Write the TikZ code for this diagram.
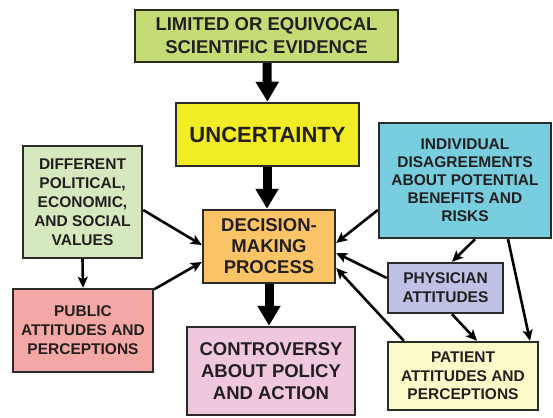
\documentclass[tikz,border=0pt]{standalone}
\usepackage{fontspec}
\setmainfont{Liberation Sans}
\usetikzlibrary{arrows.meta,calc}
\definecolor{bordc}{RGB}{45,42,42}
\definecolor{textc}{RGB}{35,31,32}
\definecolor{cTop}{RGB}{197,220,118}
\definecolor{cUnc}{RGB}{242,236,38}
\definecolor{cVal}{RGB}{214,232,189}
\definecolor{cInd}{RGB}{120,205,222}
\definecolor{cDec}{RGB}{251,197,103}
\definecolor{cPub}{RGB}{244,168,166}
\definecolor{cCon}{RGB}{239,200,222}
\definecolor{cPhy}{RGB}{190,193,229}
\definecolor{cPat}{RGB}{251,249,200}
\begin{document}
\begin{tikzpicture}[x=1pt,y=-1pt,
  box/.style={draw=bordc, line width=2.4pt, fill=#1, align=center, text=textc, inner sep=0pt},
  smallfont/.style={font=\fontsize{15.5pt}{19pt}\selectfont\bfseries},
  bigfont/.style={font=\fontsize{18.5pt}{22pt}\selectfont\bfseries},
  thick arrow/.style={draw=black, line width=9pt, -{Triangle[width=22pt,length=20pt]}},
  thin arrow/.style={draw=black, line width=2.6pt, -{Stealth[length=11pt,width=10pt,inset=2.5pt]}},
]
\useasboundingbox (0,0) rectangle (553,417);

\node[box=cTop, minimum width=263pt, minimum height=52pt, font=\fontsize{18.5pt}{23pt}\selectfont\bfseries] (top) at (266.5,36)
  {LIMITED OR EQUIVOCAL\\SCIENTIFIC EVIDENCE};
\node[box=cUnc, minimum width=183pt, minimum height=63pt, font=\fontsize{22pt}{26pt}\selectfont\bfseries] (unc) at (267.5,134.5)
  {UNCERTAINTY};
\node[box=cVal, minimum width=119pt, minimum height=112pt, smallfont] (val) at (82.5,202)
  {DIFFERENT\\POLITICAL,\\ECONOMIC,\\AND SOCIAL\\VALUES};
\node[box=cInd, minimum width=172pt, minimum height=115pt, smallfont, font=\fontsize{15.5pt}{18pt}\selectfont\bfseries] (ind) at (465,180.5)
  {INDIVIDUAL\\DISAGREEMENTS\\ABOUT POTENTIAL\\BENEFITS AND\\RISKS};
\node[box=cDec, minimum width=132pt, minimum height=73pt, bigfont, font=\fontsize{18.5pt}{21pt}\selectfont\bfseries] (dec) at (269,246.5)
  {DECISION-\\MAKING\\PROCESS};
\node[box=cPub, minimum width=140pt, minimum height=83pt, smallfont] (pub) at (83,330.5)
  {PUBLIC\\ATTITUDES AND\\PERCEPTIONS};
\node[box=cCon, minimum width=168pt, minimum height=88pt, bigfont] (con) at (271,371)
  {CONTROVERSY\\ABOUT POLICY\\AND ACTION};
\node[box=cPhy, minimum width=115pt, minimum height=50pt, smallfont] (phy) at (445.5,288)
  {PHYSICIAN\\ATTITUDES};
\node[box=cPat, minimum width=150pt, minimum height=68pt, smallfont, font=\fontsize{15.5pt}{18.5pt}\selectfont\bfseries] (pat) at (463,376)
  {PATIENT\\ATTITUDES AND\\PERCEPTIONS};

% thick arrows
\draw[thick arrow] ([xshift=0.5pt]top.south) -- (unc.north);
\draw[thick arrow] ([xshift=-0.5pt]unc.south) -- ([xshift=-2pt]dec.north);
\draw[thick arrow] (dec.south) -- ([xshift=-2pt]con.north);

% thin arrows
\draw[thin arrow] ([yshift=-8pt]val.east) -- ([yshift=1.5pt]dec.west);
\draw[thin arrow] ([yshift=-1.5pt]pub.north east) -- ([yshift=-15.5pt]dec.west);
\draw[thin arrow] (val.south) -- (pub.north);
\draw[thin arrow] ([yshift=-29.5pt]ind.west) -- ([yshift=3.5pt]dec.east);
\draw[thin arrow] ([yshift=10pt]phy.west) -- ([yshift=-6.5pt]dec.east);
\draw[thin arrow] ([xshift=17pt]pat.north west) -- ([yshift=-21.5pt]dec.east);
\draw[thin arrow] ([xshift=10pt]ind.south) -- ([xshift=6.5pt]phy.north);
\draw[thin arrow] ([xshift=43pt]ind.south) -- ([xshift=67pt]pat.north);
\draw[thin arrow] ([xshift=6.5pt]phy.south) -- ([xshift=14pt]pat.north);
\end{tikzpicture}
\end{document}
